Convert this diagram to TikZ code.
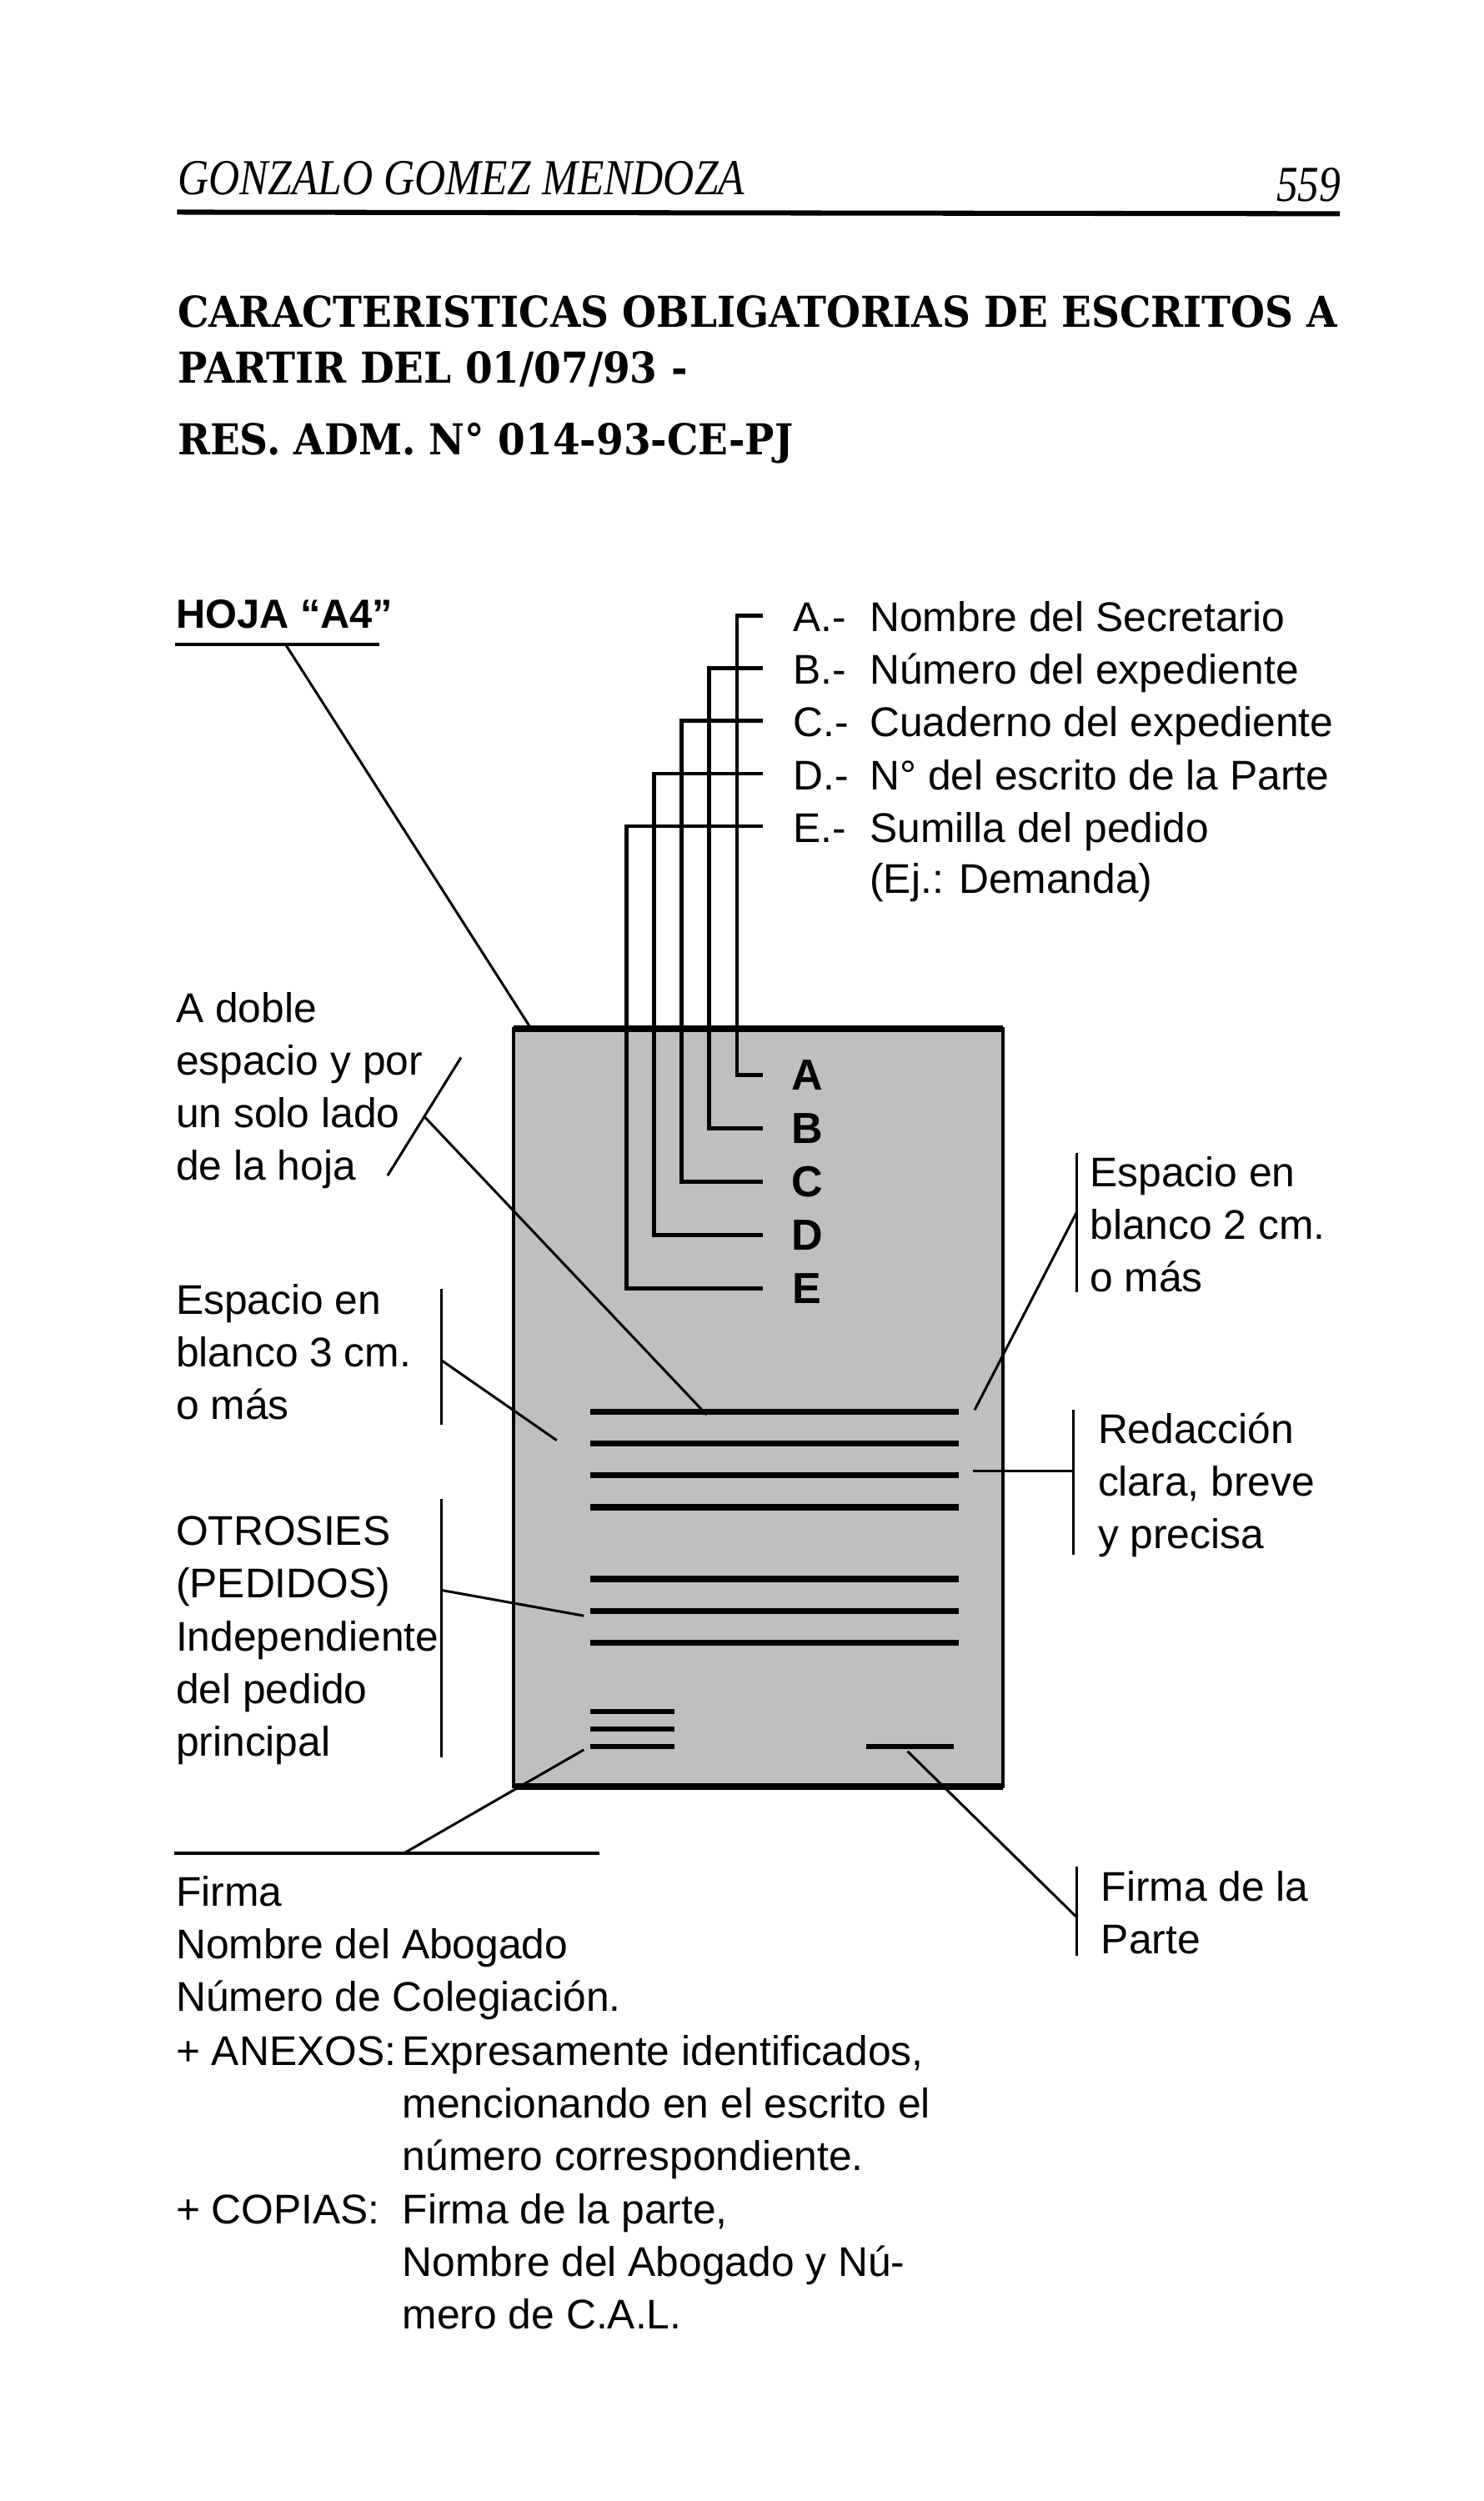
\documentclass[tikz,border=0pt]{standalone}
\usepackage{fontspec}
\setmainfont{Liberation Sans}
\newfontfamily\titlefont{DejaVu Serif}[FakeStretch=0.92]
\newfontfamily\headfont{Liberation Serif}[FakeStretch=0.85]
\usetikzlibrary{positioning}

\begin{document}
\begin{tikzpicture}[x=0.02cm, y=-0.02cm,
    lbl/.style={anchor=base west, inner sep=0pt, align=left, font=\fontsize{14.8}{18.8}\selectfont},
    letter/.style={inner sep=0pt, font=\fontsize{15.5}{18}\selectfont\bfseries},
    ttl/.style={anchor=base west, inner sep=0pt, font=\titlefont\bfseries\fontsize{15.2}{18}\selectfont},
    head/.style={inner sep=0pt, font=\headfont\itshape\fontsize{18}{20}\selectfont},
    sheet/.style={draw, line width=1.2pt, fill=black!25},
    bar/.style={line width=2.2pt},
    conn/.style={line width=1.4pt},
    leader/.style={line width=0.9pt}]

    \fill[white] (0,0) rectangle (930,1568);
    \useasboundingbox (0,0) rectangle (930,1568);

    % page header
    \node[head, anchor=base west] (author) at (111,122) {GONZALO GOMEZ MENDOZA};
    \node[head, anchor=base east] (page) at (841,126) {559};
    \draw[line width=1.8pt] (111,133) -- (840,134);

    % title
    \node[ttl] (title1) at (111,205) {CARACTERISTICAS OBLIGATORIAS DE ESCRITOS A};
    \node[ttl] (title2) at (111,240) {PARTIR DEL 01/07/93 -};
    \node[ttl] (title3) at (111,285) {RES. ADM. N° 014-93-CE-PJ};

    % the sheet
    \coordinate (sheetNW) at (322,645);
    \coordinate (sheetSE) at (629,1120);
    \draw[sheet] (sheetNW) rectangle (sheetSE);
    \draw[line width=2.6pt] (sheetNW) -- (sheetNW -| sheetSE);
    \draw[line width=2.4pt] (sheetSE -| sheetNW) -- (sheetSE);

    % text lines on the sheet
    \foreach \y in {885,905,925,945,990,1010,1030}
        \draw[bar] (370,\y) -- (601,\y);
    \foreach \y in {1073,1084,1095}
        \draw[bar, line width=2pt] (370,\y) -- (423,\y);
    \draw[bar, line width=2pt] (543,1095) -- (598,1095);

    % HOJA A4
    \node[lbl, font=\fontsize{14.5}{18}\selectfont\bfseries] (hoja) at (110,394) {HOJA “A4”};
    \coordinate (hojaL) at (110,404);
    \coordinate (hojaR) at (238,404);
    \coordinate (hojaFoot) at (179,404);
    \coordinate (sheetTop) at (333,645);
    \draw[line width=1.1pt] (hojaL) -- (hojaR);
    \draw[leader] (hojaFoot) -- (sheetTop);

    % header items A-E
    \foreach \l/\t [count=\i from 0] in {A/Nombre del Secretario, B/Número del expediente,
            C/Cuaderno del expediente, D/N° del escrito de la Parte, E/Sumilla del pedido}{
        \node[lbl] (item\l) at (497,396+33*\i) {\l.-};
        \node[lbl] (text\l) at (545,396+33*\i) {\t};
        \node[letter] (mark\l) at (506,674+33.4*\i) {\l};
        \coordinate (top\l) at (478,386+33*\i);
        \coordinate (bot\l) at (478,674+33.4*\i);
        \draw[conn] (top\l) -- ++(-16-17.3*\i,0) |- (bot\l);
    }
    \node[lbl] (example) at (545,560) {(Ej.: Demanda)};

    % left notes (base = last line)
    \node[lbl] (doble) at (110,740) {A doble\\espacio y por\\un solo lado\\de la hoja};
    \coordinate (dobleT) at (289,663);
    \coordinate (dobleB) at (243,737);
    \coordinate (dobleM) at (266,700);
    \coordinate (bar1) at (443,887);
    \draw[leader] (dobleT) -- (dobleB);
    \draw[leader] (dobleM) -- (bar1);

    \node[lbl] (margen) at (110,890) {Espacio en\\blanco 3 cm.\\o más};
    \coordinate (margenT) at (277,808);
    \coordinate (margenB) at (277,893);
    \coordinate (margenM) at (277,853);
    \coordinate (margenIn) at (349,903);
    \draw[leader] (margenT) -- (margenB);
    \draw[leader] (margenM) -- (margenIn);

    \node[lbl] (otrosi) at (110,1101) {OTROSIES\\(PEDIDOS)\\Independiente\\del pedido\\principal};
    \coordinate (otrosiT) at (277,940);
    \coordinate (otrosiB) at (277,1102);
    \coordinate (otrosiM) at (277,997);
    \coordinate (bar6) at (366,1013);
    \draw[leader] (otrosiT) -- (otrosiB);
    \draw[leader] (otrosiM) -- (bar6);

    % right notes
    \node[lbl] (derecho) at (683,810) {Espacio en\\blanco 2 cm.\\o más};
    \coordinate (derechoT) at (675,723);
    \coordinate (derechoB) at (675,810);
    \coordinate (derechoM) at (675,760);
    \coordinate (bar1end) at (611,884);
    \draw[leader] (derechoT) -- (derechoB);
    \draw[leader] (derechoM) -- (bar1end);

    \node[lbl] (redaccion) at (688,971) {Redacción\\clara, breve\\y precisa};
    \coordinate (redaccionT) at (673,884);
    \coordinate (redaccionB) at (673,975);
    \coordinate (redaccionM) at (673,922);
    \coordinate (bodyEnd) at (610,922);
    \draw[leader] (redaccionT) -- (redaccionB);
    \draw[leader] (redaccionM) -- (bodyEnd);

    % signatures
    \coordinate (firmaL) at (109,1162);
    \coordinate (firmaR) at (376,1162);
    \coordinate (firmaM) at (253,1162);
    \coordinate (abogado) at (366,1097);
    \draw[line width=1.1pt] (firmaL) -- (firmaR);
    \draw[leader] (firmaM) -- (abogado);

    \node[lbl] (parte) at (690,1225) {Firma de la\\Parte};
    \coordinate (parteT) at (675,1170);
    \coordinate (parteB) at (675,1226);
    \coordinate (parteM) at (675,1202);
    \coordinate (parteSig) at (569,1098);
    \draw[leader] (parteT) -- (parteB);
    \draw[leader] (parteSig) -- (parteM);

    % bottom notes
    \node[lbl] (firma) at (110,1261) {Firma\\Nombre del Abogado\\Número de Colegiación.};
    \node[lbl] (anexos) at (110,1295) {+ ANEXOS:};
    \node[lbl] (anexostxt) at (252,1361) {Expresamente identificados,\\mencionando en el escrito el\\número correspondiente.};
    \node[lbl] (copias) at (110,1394) {+ COPIAS:};
    \node[lbl] (copiastxt) at (252,1460) {Firma de la parte,\\Nombre del Abogado y Nú-\\mero de C.A.L.};
\end{tikzpicture}
\end{document}
